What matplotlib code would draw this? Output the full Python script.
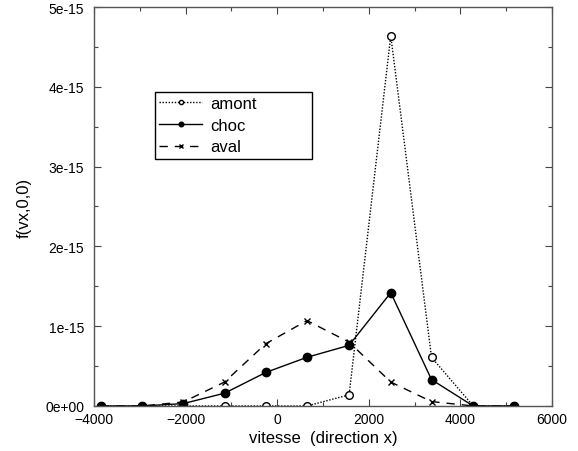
import matplotlib
matplotlib.use("Agg")
import matplotlib.pyplot as plt
from matplotlib.ticker import MultipleLocator, FuncFormatter

plt.rcParams['font.family'] = ['Liberation Sans', 'DejaVu Sans']

# vitesse (direction x) et f(vx,0,0) en unites de 1e-15
vx = [-3850, -2950, -2050, -1150, -250, 650, 1570, 2480, 3370, 4280, 5180]
amont = [0, 0, 0, 0, 0, 0, 0.14, 4.64, 0.61, 0, 0]
choc = [0, 0, 0.03, 0.16, 0.42, 0.61, 0.76, 1.42, 0.33, 0, 0]
aval = [0, 0, 0.05, 0.30, 0.78, 1.07, 0.80, 0.30, 0.055, 0, 0]

scale = 1e-15
amont = [v * scale for v in amont]
choc = [v * scale for v in choc]
aval = [v * scale for v in aval]

fig = plt.figure(figsize=(5.78, 4.52), dpi=100)
ax = fig.add_axes([0.1626, 0.0996, 0.7924, 0.8827])

ax.plot(vx, amont, linestyle=(0, (1, 1.2)), color='black', lw=1,
        marker='o', markersize=5.5, markerfacecolor='white',
        markeredgecolor='black', markeredgewidth=1, label='amont')
ax.plot(vx, choc, linestyle='-', color='black', lw=1,
        marker='o', markersize=6, markerfacecolor='black',
        markeredgecolor='black', label='choc')
ax.plot(vx, aval, linestyle=(0, (6, 5)), color='black', lw=1,
        marker='x', markersize=4.5, markeredgewidth=1, label='aval')

ax.set_xlim(-4000, 6000)
ax.set_ylim(0, 5e-15)
ax.xaxis.set_major_locator(MultipleLocator(2000))
ax.xaxis.set_minor_locator(MultipleLocator(1000))
ax.yaxis.set_major_locator(MultipleLocator(1e-15))
ax.yaxis.set_minor_locator(MultipleLocator(0.5e-15))


def yfmt(v, pos):
    if abs(v) < 1e-20:
        return '0e+00'
    return '%de-15' % round(v / 1e-15)


ax.yaxis.set_major_formatter(FuncFormatter(yfmt))

ax.tick_params(which='both', direction='in', top=True, right=True,
               labelsize=10, color='#444444')
ax.tick_params(axis='x', pad=4)
ax.tick_params(axis='y', pad=7)
ax.tick_params(which='major', length=5, width=0.8)
ax.tick_params(which='minor', length=3, width=0.8)
for sp in ax.spines.values():
    sp.set_color('#555555')
    sp.set_linewidth(1)

ax.set_xlabel('vitesse  (direction x)', fontsize=12, labelpad=3)
ax.set_ylabel('f(vx,0,0)', fontsize=12, labelpad=10)

leg = ax.legend(loc='upper left', bbox_to_anchor=(0.133, 0.629, 0.342, 0.158),
                mode='expand', fontsize=12, markerscale=0.55, handlelength=2.6,
                handletextpad=0.5, labelspacing=0.4, borderpad=0.25,
                fancybox=False, framealpha=1, borderaxespad=0)
leg.get_frame().set_edgecolor('black')
leg.get_frame().set_linewidth(1)

fig.savefig('out.png', dpi=100)
